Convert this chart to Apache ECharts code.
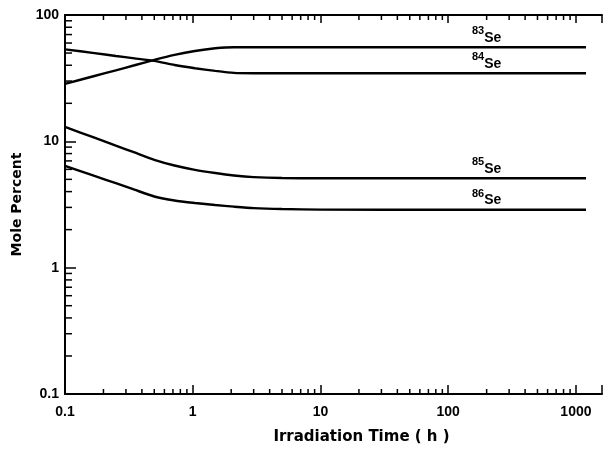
<!DOCTYPE html>
<html>
<head>
<meta charset="utf-8">
<script src="https://cdn.jsdelivr.net/npm/echarts@6/dist/echarts.min.js"></script>
<style>html,body{margin:0;padding:0;background:#fff}#c{width:609px;height:450px}</style>
</head>
<body>
<div id="c"></div>
<script>
// ---- data ----
var times = [0.1, 0.17, 0.25, 0.35, 0.5, 0.72, 1.04, 1.5, 2.1, 3, 5, 10, 100, 1200];
var se83 = [28.5, 32.9, 36.5, 40.0, 44.1, 48.3, 51.9, 54.5, 55.6, 55.6, 55.6, 55.6, 55.6, 55.6];
var se84 = [53.5, 49.9, 47.4, 45.4, 43.3, 40.2, 37.9, 36.1, 34.8, 34.6, 34.6, 34.6, 34.6, 34.6];
var se85 = [13.0, 10.7, 9.25, 8.17, 7.14, 6.44, 5.95, 5.61, 5.37, 5.21, 5.12, 5.1, 5.1, 5.1];
var se86 = [6.4, 5.32, 4.66, 4.14, 3.66, 3.40, 3.25, 3.13, 3.04, 2.96, 2.91, 2.88, 2.87, 2.87];
var isotopes = ['83', '84', '85', '86'];
var xTickLabels = ['0.1', '1', '10', '100', '1000'];
var yTickLabels = ['0.1', '1', '10', '100'];
var labelTime = 200;

var xMin = 0.1, xMax = 1600, yMin = 0.1, yMax = 100;

function pairs(vals){ return times.map(function(t,i){ return [t, vals[i]]; }); }
function isDecade(v, arr){
  return arr.some(function(s){ return Math.abs(Math.log10(v) - Math.log10(parseFloat(s))) < 1e-6; });
}
// minor tick values (2..9 per decade)
var minorData = [];
[0.1, 1, 10, 100, 1000].forEach(function(d){
  for (var k = 2; k <= 9; k++) { var v = d * k; if (v < xMax) minorData.push([v, 1, 0]); }
});
[0.1, 1, 10].forEach(function(d){
  for (var k = 2; k <= 9; k++) minorData.push([1, d * k, 1]);
});

var font = '"Liberation Sans", Arial, sans-serif';
var lineStyle = {color: '#000', width: 2.4};
function seLabel(name){
  return {
    show: true, position: 'top', distance: 2,
    formatter: '{n|' + name + '}{s|Se}',
    rich: {
      n: {fontSize: 11, fontWeight: 'bold', fontFamily: font, color: '#000', verticalAlign: 'top', lineHeight: 19},
      s: {fontSize: 14, fontWeight: 'bold', fontFamily: font, color: '#000', verticalAlign: 'bottom', lineHeight: 19}
    }
  };
}
function lineSeries(name, vals){
  return {
    type: 'line', name: name, data: pairs(vals), showSymbol: false, symbol: 'none',
    smooth: 0.2, lineStyle: lineStyle,
    markPoint: {
      symbol: 'circle', symbolSize: 1,
      itemStyle: {color: 'rgba(0,0,0,0)'},
      data: [{coord: [labelTime, vals[vals.length - 1]], label: seLabel(name)}]
    }
  };
}

var minorSeries = {
  type: 'custom', data: minorData, clip: false,
  encode: {x: 0, y: 1},
  renderItem: function(params, api){
    var kind = api.value(2);
    if (kind === 0) {
      var v = api.value(0);
      var b = api.coord([v, yMin]), t = api.coord([v, yMax]);
      return {type: 'group', children: [
        {type: 'line', shape: {x1: b[0], y1: b[1], x2: b[0], y2: b[1] - 5}, style: {stroke: '#000', lineWidth: 1.5}},
        {type: 'line', shape: {x1: t[0], y1: t[1], x2: t[0], y2: t[1] + 5}, style: {stroke: '#000', lineWidth: 1.5}}
      ]};
    }
    var y = api.value(1);
    var l = api.coord([xMin, y]);
    return {type: 'line', shape: {x1: l[0], y1: l[1], x2: l[0] + 7, y2: l[1]}, style: {stroke: '#000', lineWidth: 1.5}};
  }
};

var chart = echarts.init(document.getElementById('c'));
chart.setOption({
  animation: false,
  backgroundColor: '#fff',
  grid: {left: 65, right: 7, top: 15, bottom: 56},
  xAxis: [{
    type: 'log', logBase: 10, min: xMin, max: xMax,
    name: 'Irradiation Time ( h )', nameLocation: 'middle', nameGap: 36,
    nameTextStyle: {fontSize: 15, fontWeight: 'bold', fontFamily: '"DejaVu Sans", sans-serif', color: '#000', padding: [0, 0, 0, 56]},
    axisLine: {show: true, lineStyle: {color: '#000', width: 2}},
    axisTick: {show: true, inside: true, length: 9, lineStyle: {color: '#000', width: 1.5}},
    axisLabel: {
      show: true, margin: 11, fontSize: 14, fontWeight: 'bold', fontFamily: font, color: '#000',
      formatter: function(v){ return isDecade(v, xTickLabels) ? String(+v.toPrecision(6)) : ''; }
    },
    splitLine: {show: false}
  }, {
    type: 'log', logBase: 10, min: xMin, max: xMax, position: 'top',
    axisLine: {show: true, lineStyle: {color: '#000', width: 2}},
    axisTick: {show: true, inside: true, length: 8, lineStyle: {color: '#000', width: 1.5}},
    axisLabel: {show: false}, splitLine: {show: false}
  }],
  yAxis: [{
    type: 'log', logBase: 10, min: yMin, max: yMax,
    name: 'Mole Percent', nameLocation: 'middle', nameGap: 33, nameRotate: 90,
    nameTextStyle: {fontSize: 14, fontWeight: 'bold', fontFamily: '"DejaVu Sans", sans-serif', color: '#000'},
    axisLine: {show: true, lineStyle: {color: '#000', width: 2}},
    axisTick: {show: true, inside: true, length: 11, lineStyle: {color: '#000', width: 1.5}},
    axisLabel: {
      show: true, margin: 6, fontSize: 14, fontWeight: 'bold', fontFamily: font, color: '#000',
      formatter: function(v){ return isDecade(v, yTickLabels) ? String(+v.toPrecision(6)) : ''; }
    },
    splitLine: {show: false}
  }],
  series: [
    minorSeries,
    lineSeries(isotopes[0], se83),
    lineSeries(isotopes[1], se84),
    lineSeries(isotopes[2], se85),
    lineSeries(isotopes[3], se86)
  ]
});
</script>
</body>
</html>
